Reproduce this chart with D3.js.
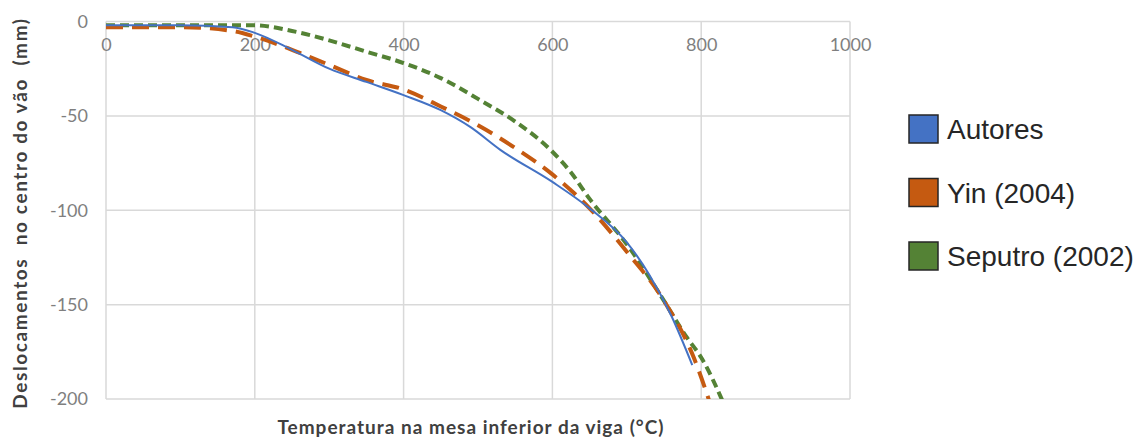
<!DOCTYPE html>
<html>
<head>
<meta charset="utf-8">
<script src="https://cdn.jsdelivr.net/npm/d3@7"></script>
<style>
  body { margin: 0; background: #fff; }
  svg { display: block; }
</style>
</head>
<body>
<div id="chart"></div>
<script>
// tick values
const xTicks = [0, 200, 400, 600, 800, 1000];
const yTicks = [0, -50, -100, -150, -200];

// series: [temperature °C, displacement mm]
const autores = [
  [0, -2], [100, -2], [170, -3], [200, -6], [250, -15], [300, -25], [350, -32],
  [400, -39], [450, -47], [490, -56], [530, -68], [600, -85], [650, -99],
  [700, -117], [730, -134], [760, -156], [788, -182]
];
const yin = [
  [0, -3], [100, -3], [170, -5], [200, -8], [250, -15], [300, -23], [350, -31],
  [400, -36], [450, -45], [500, -55], [550, -67], [600, -81], [650, -99],
  [700, -122], [750, -148], [790, -178], [815, -206]
];
const seputro = [
  [0, -2], [100, -2], [200, -2], [250, -5], [300, -10], [350, -16], [400, -22],
  [450, -30], [500, -41], [550, -53], [600, -69], [625, -80], [650, -94],
  [700, -118], [750, -148], [780, -167], [800, -178], [832, -204]
];

const seriesNames = ["Autores", "Yin (2004)", "Seputro (2002)"];
const seriesData = [autores, yin, seputro];
const colors = ["#4472c4", "#c55a11", "#548235"];

const width = 1141;
const height = 439;
const plotLeft = 106;
const plotRight = 850;
const plotTop = 21.5;
const plotBottom = 399;

const svg = d3.select("#chart").append("svg")
  .attr("width", width)
  .attr("height", height);

const x = d3.scaleLinear().domain([0, 1000]).range([plotLeft, plotRight]);
const y = d3.scaleLinear().domain([-200, 0]).range([plotBottom, plotTop]);

// plain labels: hyphen minus, no thousands separator
const plain = (d) => String(d);

// gridlines
svg.append("g")
  .selectAll("line")
  .data(xTicks)
  .join("line")
  .attr("x1", (d) => x(d))
  .attr("x2", (d) => x(d))
  .attr("y1", plotTop)
  .attr("y2", plotBottom)
  .attr("stroke", "#d9d9d9")
  .attr("stroke-width", 1.5);

svg.append("g")
  .selectAll("line")
  .data(yTicks)
  .join("line")
  .attr("x1", plotLeft)
  .attr("x2", plotRight)
  .attr("y1", (d) => y(d))
  .attr("y2", (d) => y(d))
  .attr("stroke", "#d9d9d9")
  .attr("stroke-width", 1.5);

// y axis labels
const yAxis = svg.append("g")
  .attr("transform", `translate(${plotLeft - 18},0)`)
  .call(d3.axisLeft(y).tickValues(yTicks).tickFormat(plain).tickSize(0).tickPadding(0));
yAxis.select(".domain").remove();
yAxis.selectAll("text")
  .attr("font-family", "Lato, 'Noto Sans', sans-serif")
  .attr("font-size", 18)
  .attr("fill", "#7f7f7f");

// x axis labels (just under the 0 line)
const xAxis = svg.append("g")
  .attr("transform", `translate(0,${plotTop + 17})`)
  .call(d3.axisBottom(x).tickValues(xTicks).tickFormat(plain).tickSize(0).tickPadding(0));
xAxis.select(".domain").remove();
xAxis.selectAll("text")
  .attr("font-family", "Lato, 'Noto Sans', sans-serif")
  .attr("font-size", 18)
  .attr("fill", "#7f7f7f");

// clip lines to the plot area
svg.append("clipPath")
  .attr("id", "plotClip")
  .append("rect")
  .attr("x", plotLeft)
  .attr("y", plotTop - 5)
  .attr("width", plotRight - plotLeft)
  .attr("height", plotBottom - plotTop + 5);

const line = d3.line()
  .curve(d3.curveMonotoneX)
  .x((d) => x(d[0]))
  .y((d) => y(d[1]));

const styles = [
  { width: 2, dash: null },
  { width: 4, dash: "17,9" },
  { width: 4, dash: "9,5" }
];

// draw green first, then orange, then blue on top
[2, 1, 0].forEach((i) => {
  svg.append("path")
    .attr("clip-path", "url(#plotClip)")
    .attr("fill", "none")
    .attr("stroke", colors[i])
    .attr("stroke-width", styles[i].width)
    .attr("stroke-dasharray", styles[i].dash)
    .attr("d", line(seriesData[i]));
});

// axis titles
svg.append("text")
  .text("Deslocamentos  no centro do vão  (mm)")
  .attr("transform", "translate(27, 213) rotate(-90)")
  .attr("text-anchor", "middle")
  .attr("font-family", "Lato, 'Noto Sans', sans-serif")
  .attr("font-weight", "bold")
  .attr("font-size", 19)
  .attr("letter-spacing", 1.6)
  .attr("fill", "#404040")
  .style("white-space", "pre");

svg.append("text")
  .text("Temperatura na mesa inferior da viga (°C)")
  .attr("x", 471)
  .attr("y", 434)
  .attr("text-anchor", "middle")
  .attr("font-family", "Lato, 'Noto Sans', sans-serif")
  .attr("font-weight", "bold")
  .attr("font-size", 19)
  .attr("letter-spacing", 1)
  .attr("fill", "#404040");

// legend
const legend = svg.append("g")
  .selectAll("g")
  .data(seriesNames)
  .join("g")
  .attr("transform", (d, i) => `translate(909, ${115 + i * 63.5})`);

legend.append("rect")
  .attr("width", 29)
  .attr("height", 28)
  .attr("fill", (d, i) => colors[i])
  .attr("stroke", "#262626")
  .attr("stroke-width", 1.5);

legend.append("text")
  .attr("x", 38)
  .attr("y", 24)
  .attr("font-family", "'Liberation Sans', Arial, sans-serif")
  .attr("font-size", 28)
  .attr("fill", "#262626")
  .text((d) => d);
</script>
</body>
</html>
